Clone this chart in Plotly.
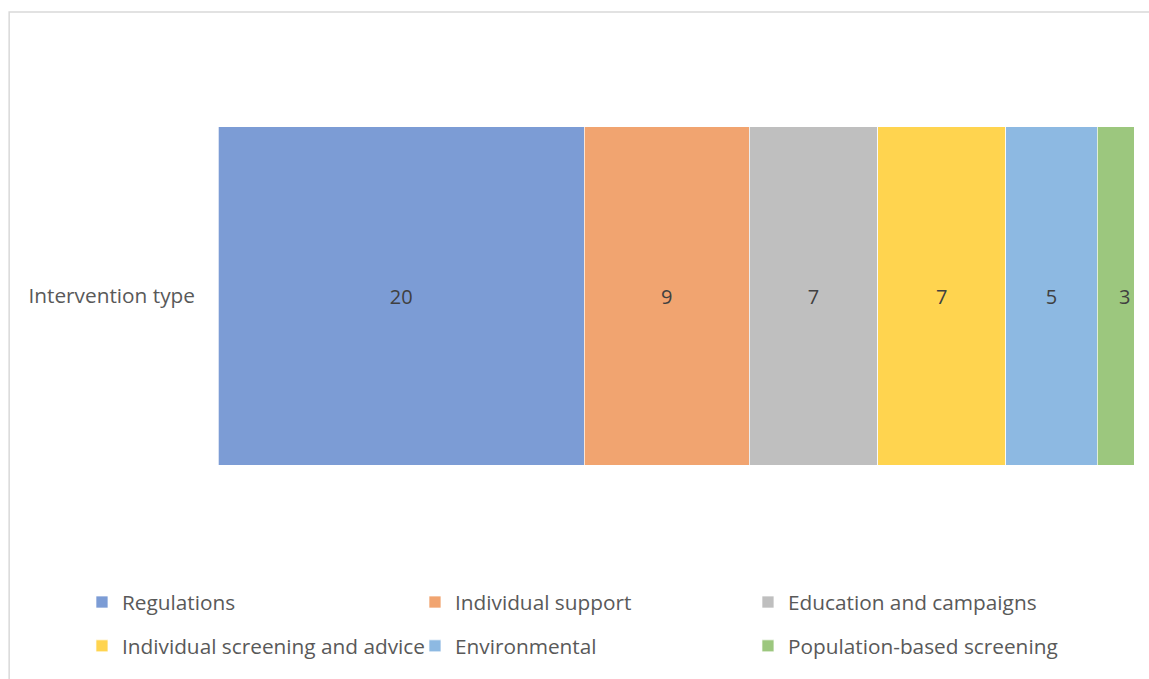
import plotly.graph_objects as go

# Number of interventions by type
category = ["Intervention type"]
series_names = [
    "Regulations",
    "Individual support",
    "Education and campaigns",
    "Individual screening and advice",
    "Environmental",
    "Population-based screening",
]
series_values = [20, 9, 7, 7, 5, 3]
series_colors = ["#7C9CD5", "#F1A470", "#BFBFBF", "#FFD44F", "#8DB9E2", "#9CC77E"]

FONT = "Open Sans"
TEXT_GREY = "#595959"

fig = go.Figure()
for i, (name, val, col) in enumerate(zip(series_names, series_values, series_colors)):
    fig.add_trace(go.Bar(
        name=name,
        y=category,
        x=[val],
        orientation="h",
        marker=dict(color=col, line=dict(color="rgba(255,255,255,0.7)", width=1)),
        text=[str(val)],
        textposition="inside",
        insidetextanchor="middle",
        textfont=dict(family=FONT, size=20, color="#404040"),
        legend="legend" if i < 3 else "legend2",
        hoverinfo="name+x",
    ))

legend_common = dict(
    orientation="h",
    xanchor="left",
    yanchor="top",
    entrywidth=288,
    entrywidthmode="pixels",
    font=dict(family=FONT, size=20.8, color=TEXT_GREY),
    bgcolor="rgba(0,0,0,0)",
    traceorder="normal",
)

fig.update_layout(
    width=1149,
    height=679,
    barmode="stack",
    bargap=0.4,
    paper_bgcolor="white",
    plot_bgcolor="white",
    margin=dict(l=218, r=15, t=14, b=99),
    showlegend=True,
    legend=dict(x=-0.1485, y=-0.0071, **legend_common),
    legend2=dict(x=-0.1485, y=-0.0848, **legend_common),
    xaxis=dict(range=[0, 50], showgrid=False, showticklabels=False, zeroline=False,
               showline=False, ticks=""),
    yaxis=dict(showgrid=False, zeroline=False, showline=False, ticks="",
               ticklabelstandoff=22,
               tickfont=dict(family=FONT, size=20.8, color=TEXT_GREY)),
    shapes=[dict(
        type="rect", xref="paper", yref="paper",
        x0=-0.228, x1=1.1, y0=-0.3, y1=1.0035,
        line=dict(color="#D9D9D9", width=1.5), fillcolor="rgba(0,0,0,0)",
        layer="above",
    )],
)

fig.write_html("out.html")
